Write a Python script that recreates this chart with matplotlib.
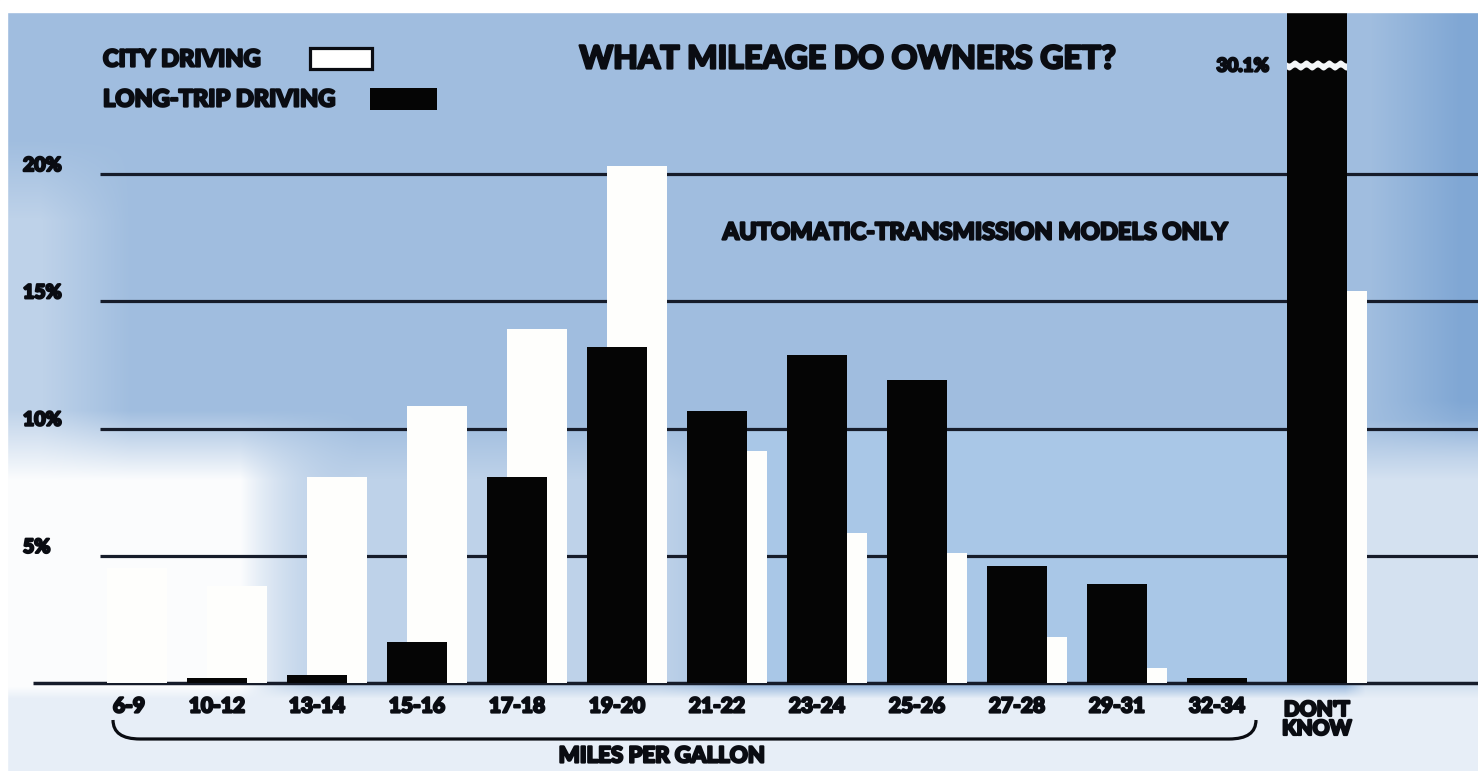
import numpy as np
import matplotlib
matplotlib.use("Agg")
import matplotlib.pyplot as plt
import matplotlib.patheffects as pe
from matplotlib.patches import Rectangle, PathPatch
from matplotlib.path import Path

# ---------------- data ----------------
categories = ["6-9", "10-12", "13-14", "15-16", "17-18", "19-20", "21-22",
              "23-24", "25-26", "27-28", "29-31", "32-34", "DON'T\nKNOW"]
city_driving = [4.5, 3.8, 8.1, 10.9, 13.9, 20.3, 9.1, 5.9, 5.1, 1.8, 0.6, 0.0, 15.4]
long_trip_driving = [0.0, 0.2, 0.3, 1.6, 8.1, 13.2, 10.7, 12.9, 11.9, 4.6, 3.9, 0.2, 30.1]
y_ticks = [5, 10, 15, 20]
y_tick_labels = ["5%", "10%", "15%", "20%"]
title = "WHAT MILEAGE DO OWNERS GET?"
subtitle = "AUTOMATIC-TRANSMISSION MODELS ONLY"
x_title = "MILES PER GALLON"
legend_labels = ["CITY DRIVING", "LONG-TRIP DRIVING"]
break_label = "30.1%"

# ---------------- layout helpers ----------------
W, H = 1478, 771
PX_PER_CAT = 100.0
X0_PX = 127.0           # pixel of category index 0 (group centre)
BASE_PX = 683.0         # baseline pixel (from top)
PX_PER_PCT = 25.45

def px2x(px):
    return (px - X0_PX) / PX_PER_CAT

def py2y(py):
    return (BASE_PX - py) / PX_PER_PCT

FONT = ["Lato", "DejaVu Sans"]
INK = "#0a0c12"
HEAVY = [pe.withStroke(linewidth=1.6, foreground=INK)]

def heavy_text(xv, yv, s, size, **kw):
    t = ax.text(xv, yv, s, fontsize=size, fontweight="black", family=FONT,
                color=INK, zorder=7, **kw)
    t.set_path_effects(HEAVY)
    return t

fig = plt.figure(figsize=(W / 100, H / 100), dpi=100)
ax = fig.add_axes([0, 0, 1, 1])
ax.set_xlim(px2x(0), px2x(W))
ax.set_ylim(py2y(H), py2y(0))
ax.axis("off")

# ---------------- background (printed blue texture, smooth) ----------------
Xp, Yp = np.meshgrid(np.arange(W), np.arange(H))
def ramp(v, a, b):
    return np.clip((v - a) / (b - a), 0, 1)

f = np.full((H, W), 0.56)
# lighter left upper patch
lu = ramp(-Xp, -130, -40) * ramp(Yp, 140, 220)
f = f * (1 - lu) + 0.38 * lu
# lower-left whitish zone
ll = ramp(Yp, 410, 480) * ramp(-Xp, -360, -240)
f = f * (1 - ll) + 0.02 * ll
# middle-lower zone a little lighter
ml = ramp(Yp, 420, 480) * ramp(Xp, 240, 360) * ramp(-Xp, -740, -660)
f = f * (1 - ml) + 0.38 * ml
# right edge darker upper
re = ramp(Xp, 1370, 1460) * ramp(-Yp, -460, -400)
f = f * (1 - re) + 0.75 * re
# lower right lighter
lr = ramp(Xp, 1345, 1365) * ramp(Yp, 420, 480)
f = f * (1 - lr) + 0.25 * lr
# bottom strip under baseline
bs = ramp(Yp, 686, 698)
f = f * (1 - bs) + 0.14 * bs

blue = np.array([86, 138, 198]) / 255.0
img = (1 - f)[..., None] * np.ones(3) + f[..., None] * blue
ax.imshow(img, extent=(px2x(0), px2x(W), py2y(H), py2y(0)),
          origin="upper", aspect="auto", zorder=0, interpolation="bilinear")

# flat light-blue block
ax.add_patch(Rectangle((px2x(746), 0), px2x(1287) - px2x(746), 10,
                       facecolor="#a9c7e7", edgecolor="none", zorder=1))

# ---------------- grid & baseline ----------------
ax.hlines(y_ticks, px2x(100), px2x(W), colors="#161c2a", linewidth=2.3, zorder=2)
ax.hlines(0, px2x(33), px2x(W), colors="#161c2a", linewidth=2.5, zorder=2)

# ---------------- bars ----------------
x = np.arange(len(categories))
ax.bar(x + 0.1, city_driving, width=0.6, color="#fefefc", edgecolor="none", zorder=3)
ax.bar(x - 0.1, long_trip_driving, width=0.6, color="#050505", edgecolor="none", zorder=4)

# break in the "don't know" bar
xb = np.linspace(x[-1] - 0.1 - 0.3, x[-1] - 0.1 + 0.3, 60)
wave = 0.06 * np.sin(xb * 55)
ax.fill_between(xb, py2y(69) + wave, py2y(62) + wave, color="#f4f6f8",
                edgecolor="none", zorder=5)

# top & left paper margins
ax.axhspan(py2y(12), py2y(0), color="white", zorder=6)
ax.axvspan(px2x(0), px2x(7), color="white", zorder=6)

# ---------------- y labels ----------------
for v, lab in zip(y_ticks, y_tick_labels):
    heavy_text(px2x(23), v + 0.33, lab, 14, ha="left", va="center")

# ---------------- category labels ----------------
for xi, lab in zip(x, categories):
    if "\n" in lab:
        heavy_text(xi - 0.1, py2y(719), lab, 15, ha="center", va="center",
                   linespacing=1.0)
    elif xi == 0:
        heavy_text(xi + 0.02, py2y(706), lab, 15, ha="center", va="center")
    else:
        heavy_text(xi - 0.1, py2y(706), lab, 15, ha="center", va="center")

# bracket under the mpg categories
l, r = px2x(113), px2x(1256)
yt, yb = py2y(720), py2y(739)
dx = px2x(140) - px2x(113)
verts = [(l, yt), (l, yb), (l + dx, yb), (r - dx, yb), (r, yb), (r, yt)]
codes = [Path.MOVETO, Path.CURVE3, Path.CURVE3, Path.LINETO, Path.CURVE3, Path.CURVE3]
ax.add_patch(PathPatch(Path(verts, codes), facecolor="none", edgecolor=INK,
                       linewidth=2.3, zorder=7))
heavy_text(px2x(662), py2y(756), x_title, 16, ha="center", va="center")

# ---------------- titles ----------------
heavy_text(px2x(848), py2y(59), title, 23, ha="center", va="center")
heavy_text(px2x(975), py2y(232), subtitle, 17, ha="center", va="center")
heavy_text(px2x(1269), py2y(66), break_label, 13.5, ha="right", va="center")

# ---------------- legend ----------------
heavy_text(px2x(103), py2y(59), legend_labels[0], 17, ha="left", va="center")
heavy_text(px2x(103), py2y(99), legend_labels[1], 17, ha="left", va="center")
ax.add_patch(Rectangle((px2x(310), py2y(69)), px2x(372) - px2x(310), py2y(48) - py2y(69),
                       facecolor="white", edgecolor=INK, linewidth=2.3, zorder=7))
ax.add_patch(Rectangle((px2x(370), py2y(110)), px2x(437) - px2x(370), py2y(88) - py2y(110),
                       facecolor="#050505", edgecolor="none", zorder=7))

fig.savefig("out.png", dpi=100)
